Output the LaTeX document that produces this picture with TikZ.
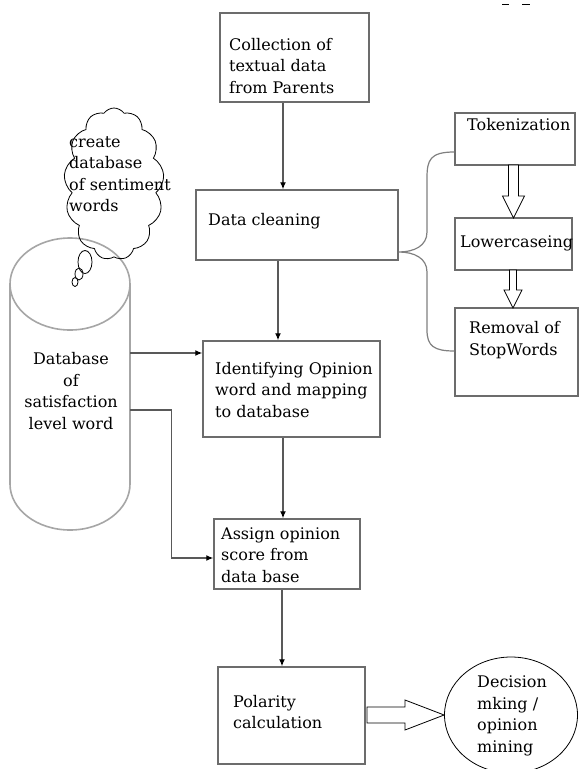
\documentclass[tikz,border=0pt]{standalone}
\usepackage{fontspec}
\setmainfont{DejaVu Serif}
\usepackage{tikz}
\usetikzlibrary{arrows.meta,calc,fit,shapes.geometric,shapes.symbols}
\tikzset{
  box/.style={draw=gray!85!black, line width=1.4pt, fill=white, inner sep=0pt},
  txt/.style={align=left, inner sep=0pt, anchor=west, font=\fontsize{16}{21.5}\selectfont},
  arr/.style={draw=black!65, line width=1.3pt, -{Latex[length=7pt,width=6pt,color=black]}},
  hollow/.style={draw=black, line width=0.8pt, fill=white, line join=miter},
  thin/.style={draw=black, line width=0.8pt},
}

\begin{document}
\begin{tikzpicture}[x=1pt,y=-1pt]
\path[use as bounding box, fill=white] (0,0) rectangle (579,769);

\node[box, fit={(220,13) (369,102)}] (collect) {};
\node[box, fit={(196,190) (398,260)}] (clean) {};
\node[box, fit={(203,341) (380,437)}] (ident) {};
\node[box, fit={(214,519) (360,589)}] (assign) {};
\node[box, fit={(218,667) (365,764)}] (polar) {};
\node[box, fit={(455,113) (575,165)}] (tok) {};
\node[box, fit={(455,218) (572,270)}] (low) {};
\node[box, fit={(455,308) (578,396)}] (rem) {};
\node[thin, ellipse, minimum width=133pt, minimum height=116pt] (dec) at (511,715) {};

\node[txt] (tcollect) at (229,66) {Collection of\\textual data\\from Parents};
\node[txt] (tclean) at (208,221) {Data cleaning};
\node[txt] (tident) at (215,390) {Identifying Opinion\\word and mapping\\to database};
\node[txt] (tassign) at (221,555) {Assign opinion\\score from\\data base};
\node[txt] (tpolar) at (233,712) {Polarity\\calculation};
\node[txt] (tdec) at (477,716) {Decision\\mking /\\opinion\\mining};
\node[txt] (ttok) at (467,125) {Tokenization};
\node[txt] (tlow) at (460,243) {Lowercaseing};
\node[txt] (trem) at (469,340) {Removal of\\StopWords};

% database cylinder
\draw[draw=gray!70, line width=1.6pt, fill=white] (10,284) -- (10,484) arc[start angle=180, end angle=0, x radius=60, y radius=46] -- (130,284);
\draw[draw=gray!70, line width=1.6pt] (70,284) ellipse[x radius=60, y radius=46];
\node[txt, align=center, anchor=center] (db) at (71,391) {Database\\of\\satisfaction\\level word};
\coordinate (dbA) at (130,353);
\coordinate (dbB) at (130,410);

% thought cloud
\node[thin, cloud, cloud puffs=13, cloud puff arc=110, aspect=0.62, minimum width=100pt, minimum height=152pt, inner sep=0pt] (cloud) at (114,184) {};
\node[thin, ellipse, minimum width=14pt, minimum height=23pt, inner sep=0pt] (bub1) at (85,262) {};
\node[thin, ellipse, minimum width=8pt, minimum height=12pt, inner sep=0pt] (bub2) at (79,274) {};
\node[thin, ellipse, minimum width=6pt, minimum height=9pt, inner sep=0pt] (bub3) at (75,282) {};
\node[txt] (tcloud) at (69,174) {create\\database\\of sentiment\\words};

\draw[arr] ([xshift=-11.5pt]collect.south) -- ([xshift=-11.5pt]collect.south |- clean.north);
\draw[arr] ([xshift=-13.5pt]ident.north |- clean.south) -- ([xshift=-13.5pt]ident.north);
\draw[arr] ([xshift=-4pt]assign.north |- ident.south) -- ([xshift=-4pt]assign.north);
\draw[arr] ([xshift=-9.5pt]polar.north |- assign.south) -- ([xshift=-9.5pt]polar.north);
\draw[arr] (dbA) -- (ident.west |- dbA);
\draw[arr] (dbB) -| ($([yshift=-4pt]assign.west)+(-42,0)$) -- ([yshift=-4pt]assign.west);

\draw[draw=gray, line width=1.2pt] (tok.west |- 0,152) .. controls (430,152) and (427,160) .. (427,178) -- (427,232)
  .. controls (427,246) and (414,252) .. (clean.east |- 0,252)
  .. controls (414,252) and (427,258) .. (427,272) -- (427,330)
  .. controls (427,346) and (434,351) .. (rem.west |- 0,351);

\draw[hollow] (508.5,165) -- (508.5,196) -- (502.5,196) -- (513.5,218) -- (524.5,196) -- (518.5,196) -- (518.5,165) -- cycle;
\draw[hollow] (509.5,270) -- (509.5,290) -- (504,290) -- (513,308) -- (522,290) -- (516.5,290) -- (516.5,270) -- cycle;
\draw[hollow] (367,707) -- (405,707) -- (405,700) -- (dec.west) -- (405,730) -- (405,723) -- (367,723) -- cycle;

\draw[thin] (502,4) -- (509,4) (522,4) -- (530,4);
\end{tikzpicture}
\end{document}
